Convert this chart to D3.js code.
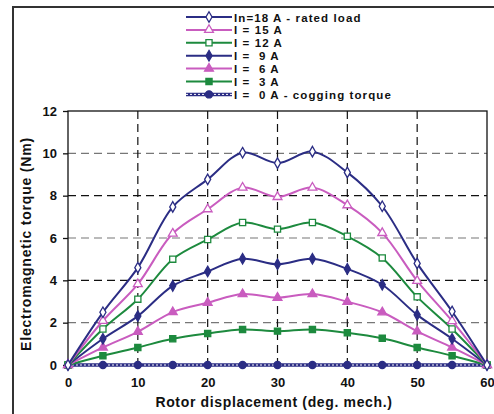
<!DOCTYPE html>
<html>
<head>
<meta charset="utf-8">
<script src="https://cdn.jsdelivr.net/npm/d3@7"></script>
<style>
  body { margin: 0; background: #fff; }
  text { font-family: Arial, "Liberation Sans", sans-serif; font-weight: bold; }
</style>
</head>
<body>
<div id="chart"></div>
<script>
// rotor displacement (deg. mech.)
var angles = [0, 5, 10, 15, 20, 25, 30, 35, 40, 45, 50, 55, 60];

// torque values (Nm)
var t18 = [0, 2.49, 4.60, 7.47, 8.77, 10.03, 9.54, 10.08, 9.10, 7.50, 4.80, 2.53, 0];
var t15 = [0, 2.09, 3.82, 6.21, 7.36, 8.38, 7.94, 8.38, 7.55, 6.24, 3.98, 2.08, 0];
var t12 = [0, 1.70, 3.11, 5.00, 5.93, 6.73, 6.42, 6.73, 6.08, 5.06, 3.22, 1.70, 0];
var t9  = [0, 1.24, 2.31, 3.74, 4.42, 5.02, 4.76, 5.02, 4.54, 3.79, 2.37, 1.24, 0];
var t6  = [0, 0.83, 1.57, 2.50, 2.94, 3.35, 3.18, 3.35, 2.99, 2.49, 1.59, 0.83, 0];
var t3  = [0, 0.44, 0.83, 1.24, 1.49, 1.68, 1.60, 1.68, 1.52, 1.26, 0.83, 0.44, 0];
var t0  = [0, 0, 0, 0, 0, 0, 0, 0, 0, 0, 0, 0, 0];

var labels = ["In=18 A - rated load", "I = 15 A", "I = 12 A", "I =  9 A", "I =  6 A", "I =  3 A", "I =  0 A - cogging torque"];
var xTicks = [0, 10, 20, 30, 40, 50, 60];
var yTicks = [0, 2, 4, 6, 8, 10, 12];

var navy = "#2b2d84", pink = "#c95cbf", green = "#1d8a3e";
var series = [
  {values: t18, color: navy,  marker: "diamond",  filled: false},
  {values: t15, color: pink,  marker: "triangle", filled: false},
  {values: t12, color: green, marker: "square",   filled: false},
  {values: t9,  color: navy,  marker: "diamond",  filled: true},
  {values: t6,  color: pink,  marker: "triangle", filled: true},
  {values: t3,  color: green, marker: "square",   filled: true},
  {values: t0,  color: navy,  marker: "circle",   filled: true, cog: true}
];

var W = 494, H = 414;
var margin = {top: 111, right: 7, bottom: 49, left: 68},
    width = 487 - margin.left,
    height = 365 - margin.top;

var root = d3.select("#chart").append("svg")
    .attr("width", W)
    .attr("height", H);

// outer frame (left and top edges)
root.append("path")
    .attr("d", "M13," + H + "V7H" + W)
    .attr("fill", "none")
    .attr("stroke", "#333")
    .attr("stroke-width", 2);

var svg = root.append("g")
    .attr("transform", "translate(" + margin.left + "," + margin.top + ")");

var x = d3.scaleLinear().domain([0, 60]).range([0, width]);
var y = d3.scaleLinear().domain([0, 12]).range([height, 0]);

// grid
svg.selectAll(".hgrid")
  .data([2, 4, 6, 8, 10])
  .enter().append("line")
    .attr("x1", 0).attr("x2", width)
    .attr("y1", function(d) { return y(d); })
    .attr("y2", function(d) { return y(d); })
    .attr("stroke", function(d) { return d % 4 == 0 ? "#111" : "#777"; })
    .attr("stroke-width", 1.2)
    .attr("stroke-dasharray", "8,5");

svg.selectAll(".vgrid")
  .data([10, 20, 30, 40, 50])
  .enter().append("line")
    .attr("y1", 0).attr("y2", height)
    .attr("x1", function(d) { return x(d); })
    .attr("x2", function(d) { return x(d); })
    .attr("stroke", "#111")
    .attr("stroke-width", 1.2)
    .attr("stroke-dasharray", "8,5");

// plot box
svg.append("rect")
    .attr("width", width).attr("height", height)
    .attr("fill", "none")
    .attr("stroke", "#111")
    .attr("stroke-width", 1.3);

// axes
var yAxis = svg.append("g")
    .call(d3.axisLeft(y).tickValues(yTicks).tickSize(5).tickPadding(6));
var xAxis = svg.append("g")
    .attr("transform", "translate(0," + height + ")")
    .call(d3.axisBottom(x).tickValues(xTicks).tickSize(0).tickPadding(13));
[xAxis, yAxis].forEach(function(a) {
  a.select(".domain").remove();
  a.selectAll("line").attr("stroke", "#111").attr("stroke-width", 1.3);
  a.selectAll("text").attr("font-size", "13px").attr("fill", "#111")
    .style("font-family", "Arial, 'Liberation Sans', sans-serif").style("font-weight", "bold");
});

// axis titles
root.append("text")
    .attr("x", 274).attr("y", 407)
    .attr("text-anchor", "middle")
    .attr("font-size", "14px")
    .attr("letter-spacing", "0.65px")
    .attr("fill", "#111")
    .text("Rotor displacement (deg. mech.)");
root.append("text")
    .attr("transform", "translate(31,244) rotate(-90)")
    .attr("text-anchor", "middle")
    .attr("font-size", "14px")
    .attr("letter-spacing", "0.8px")
    .attr("fill", "#111")
    .text("Electromagnetic torque (Nm)");

var line = d3.line()
    .x(function(d, i) { return x(angles[i]); })
    .y(function(d) { return y(d); })
    .curve(d3.curveCatmullRom.alpha(0.5));

function markerPath(type) {
  if (type == "diamond") return d3.symbol().type(d3.symbolDiamond).size(32)();
  if (type == "triangle") return d3.symbol().type(d3.symbolTriangle).size(34)();
  if (type == "square") return d3.symbol().type(d3.symbolSquare).size(38)();
  return d3.symbol().type(d3.symbolCircle).size(40)();
}

function drawMarker(g, s, px, py) {
  g.append("path")
    .attr("d", markerPath(s.marker))
    .attr("transform", "translate(" + px + "," + py + ")")
    .attr("fill", s.filled ? s.color : "#fff")
    .attr("stroke", s.color)
    .attr("stroke-width", 1.3);
}

function drawLine(g, s, d) {
  if (s.cog) {
    g.append("path").attr("d", d).attr("fill", "none")
      .attr("stroke", s.color).attr("stroke-width", 3.5);
    g.append("path").attr("d", d).attr("fill", "none")
      .attr("stroke", "#fff").attr("stroke-width", 1).attr("stroke-dasharray", "2,2");
  } else {
    g.append("path").attr("d", d).attr("fill", "none")
      .attr("stroke", s.color).attr("stroke-width", 2);
  }
}

series.slice().reverse().forEach(function(s) {
  var g = svg.append("g");
  drawLine(g, s, line(s.values));
  s.values.forEach(function(v, i) { drawMarker(g, s, x(angles[i]), y(v)); });
});

// legend
var legend = root.append("g");
labels.forEach(function(l, i) {
  var s = series[i], ly = 17 + i * 12.9;
  var g = legend.append("g");
  drawLine(g, s, "M186," + ly + "H232");
  drawMarker(g, s, 209, ly);
  g.append("text")
    .attr("x", 234).attr("y", ly + 4.5)
    .attr("font-size", "11.5px")
    .attr("letter-spacing", "1.1px")
    .attr("fill", "#111")
    .style("white-space", "pre")
    .text(l);
});
</script>
</body>
</html>
